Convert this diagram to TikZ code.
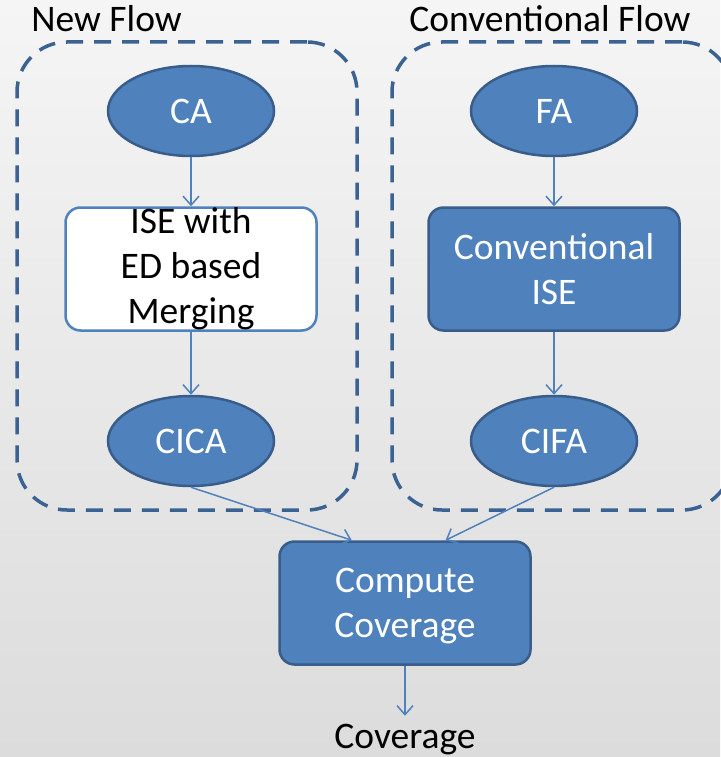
\documentclass[tikz,border=0pt]{standalone}
\usepackage{fontspec}
\setmainfont{Carlito}
\usepackage{xcolor}
\usepackage{tikz}
\usetikzlibrary{arrows.meta,positioning,shapes.geometric,calc}
\definecolor{accentblue}{HTML}{4F81BD}
\definecolor{edgeblue}{HTML}{385D8A}
\definecolor{framegray}{HTML}{3A6293}
\definecolor{bgtop}{HTML}{F5F5F5}
\definecolor{bgbottom}{HTML}{DCDCDC}
\newcommand{\slidefont}{\fontsize{37.5}{45}\selectfont}
\tikzset{
  automaton/.style={ellipse,draw=edgeblue,line width=2.5pt,fill=accentblue,minimum width=166pt,minimum height=90pt,inner sep=0pt,text=white,font=\slidefont},
  procbox/.style={rectangle,rounded corners=15pt,draw=edgeblue,line width=2.5pt,fill=accentblue,minimum width=251pt,minimum height=123pt,inner sep=0pt,align=center,text=white,font=\slidefont},
  plainbox/.style={procbox,draw=accentblue,fill=white,text=black},
  flowframe/.style={rectangle,rounded corners=50pt,draw=framegray,line width=3.5pt,dash pattern=on 17pt off 11pt,minimum width=340pt,minimum height=468pt},
  grouplabel/.style={inner sep=0pt,font=\slidefont,text=black},
  arrow/.style={-{Straight Barb[length=9pt,width=16pt]},line width=1.5pt,draw=accentblue}
}

\begin{document}
\begin{tikzpicture}[x=1pt,y=-1pt]
  \useasboundingbox (0,0) rectangle (720,757);
  \fill[top color=bgtop,bottom color=bgbottom] (0,0) rectangle (720,757);
  % the two dashed groups
  \node[flowframe] (newframe) at (187,276) {};
  \node[flowframe] (convframe) at (562,276) {};
  \node[grouplabel,anchor=base west] at ([xshift=16pt,yshift=9pt]newframe.north west) {New Flow};
  \node[grouplabel,anchor=base west] at ([xshift=19pt,yshift=9pt]convframe.north west) {Conventional Flow};
  % new flow
  \node[automaton] (ca) at (191,111) {CA};
  \node[plainbox, below=49pt of ca] (isemerge) {ISE with\\ED based\\Merging};
  \node[automaton, below=63pt of isemerge] (cica) {CICA};
  % conventional flow
  \node[automaton] (fa) at (554,111) {FA};
  \node[procbox, below=49pt of fa] (iseconv) {Conventional\\ISE};
  \node[automaton, below=63pt of iseconv] (cifa) {CIFA};
  % result
  \node[procbox, text depth=0pt] (compute) at (405,603) {Compute\\Coverage};
  \node[grouplabel, inner ysep=8pt, below=50pt of compute, anchor=north] (coverage) {Coverage};
  \draw[arrow] (ca) -- (isemerge);
  \draw[arrow] (isemerge) -- (cica);
  \draw[arrow] (fa) -- (iseconv);
  \draw[arrow] (iseconv) -- (cifa);
  \draw[arrow] (cica.south) -- ($(compute.north west)!0.29!(compute.north east)$);
  \draw[arrow] (cifa.south) -- ($(compute.north west)!0.66!(compute.north east)$);
  \draw[arrow] (compute) -- (coverage);
\end{tikzpicture}
\end{document}
